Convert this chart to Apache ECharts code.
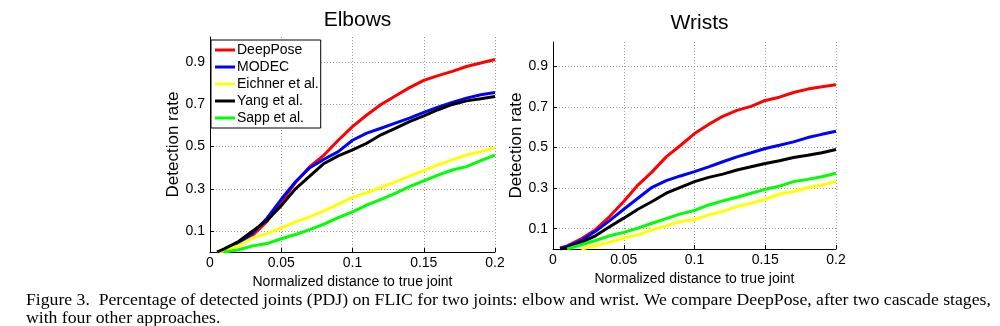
<!DOCTYPE html>
<html>
<head>
<meta charset="utf-8">
<script src="https://cdn.jsdelivr.net/npm/echarts@6/dist/echarts.min.js"></script>
<style>
  html, body { margin: 0; padding: 0; background: #fff; }
  #chart { width: 1000px; height: 326px; }
</style>
</head>
<body>
<div id="chart"></div>
<script>
// Normalized distance to true joint (sample positions along the x axis)
const distance = [0.005, 0.01, 0.02, 0.03, 0.04, 0.05, 0.06, 0.07, 0.08, 0.09, 0.10,
                  0.11, 0.12, 0.13, 0.14, 0.15, 0.16, 0.17, 0.18, 0.19, 0.20];

const methods = ['DeepPose', 'MODEC', 'Eichner et al.', 'Yang et al.', 'Sapp et al.'];
const methodColors = ['#ff0000', '#0000ff', '#ffff00', '#000000', '#00ff00'];

// Elbows: detection rate per method
const elbowDeepPose = [0, 0.01, 0.035, 0.08, 0.145, 0.235, 0.33, 0.405, 0.46, 0.53, 0.595,
                       0.65, 0.70, 0.74, 0.78, 0.814, 0.837, 0.857, 0.88, 0.897, 0.913];
const elbowMODEC    = [0, 0.01, 0.04, 0.09, 0.16, 0.25, 0.333, 0.40, 0.44, 0.476, 0.53,
                       0.564, 0.587, 0.611, 0.635, 0.662, 0.687, 0.71, 0.73, 0.746, 0.757];
const elbowEichner  = [0, 0.005, 0.03, 0.067, 0.087, 0.114, 0.143, 0.167, 0.195, 0.227, 0.259,
                       0.281, 0.306, 0.333, 0.36, 0.386, 0.413, 0.437, 0.46, 0.476, 0.495];
const elbowYang     = [0, 0.015, 0.05, 0.10, 0.15, 0.22, 0.30, 0.36, 0.42, 0.456, 0.484,
                       0.516, 0.556, 0.587, 0.619, 0.646, 0.675, 0.70, 0.717, 0.727, 0.738];
const elbowSapp     = [null, 0, 0.011, 0.029, 0.04, 0.063, 0.083, 0.106, 0.132, 0.163, 0.19,
                       0.222, 0.25, 0.278, 0.31, 0.337, 0.365, 0.389, 0.405, 0.433, 0.46];

// Wrists: detection rate per method
const wristDeepPose = [0.005, 0.015, 0.05, 0.095, 0.16, 0.234, 0.315, 0.38, 0.454, 0.51, 0.569,
                       0.614, 0.654, 0.683, 0.703, 0.732, 0.748, 0.771, 0.788, 0.80, 0.809];
const wristMODEC    = [0.003, 0.012, 0.042, 0.087, 0.14, 0.196, 0.25, 0.304, 0.337, 0.36, 0.381,
                       0.405, 0.43, 0.454, 0.474, 0.495, 0.511, 0.528, 0.549, 0.565, 0.58];
const wristEichner  = [null, null, 0, 0.016, 0.033, 0.054, 0.07, 0.095, 0.114, 0.136, 0.144,
                       0.168, 0.185, 0.209, 0.225, 0.245, 0.271, 0.283, 0.302, 0.315, 0.332];
const wristYang     = [0, 0.005, 0.033, 0.065, 0.11, 0.152, 0.196, 0.234, 0.275, 0.304, 0.332,
                       0.353, 0.369, 0.389, 0.405, 0.421, 0.435, 0.451, 0.462, 0.474, 0.49];
const wristSapp     = [null, 0, 0.021, 0.042, 0.065, 0.082, 0.103, 0.127, 0.15, 0.173, 0.19,
                       0.217, 0.237, 0.255, 0.275, 0.294, 0.31, 0.332, 0.343, 0.356, 0.373];

const panelTitles = ['Elbows', 'Wrists'];
const yTickValues = [0.1, 0.3, 0.5, 0.7, 0.9];
const xAxisName = 'Normalized distance to true joint';
const yAxisName = 'Detection rate';
const captionLines = [
  'Figure 3.  Percentage of detected joints (PDJ) on FLIC for two joints: elbow and wrist. We compare DeepPose, after two cascade stages,',
  'with four other approaches.'
];

const panels = [
  [elbowDeepPose, elbowMODEC, elbowEichner, elbowYang, elbowSapp],
  [wristDeepPose, wristMODEC, wristEichner, wristYang, wristSapp]
];

const sans = 'Liberation Sans, Arial, Helvetica, sans-serif';
const grids = [
  { left: 210, top: 37, width: 285, height: 215 },
  { left: 553, top: 42, width: 283, height: 207 }
];

function pairs(ys) {
  return distance.map((x, i) => [x, ys[i]]);
}

const xAxes = grids.map((g, i) => ({
  type: 'value', gridIndex: i, min: 0, max: 0.2, interval: 0.05,
  name: xAxisName, nameLocation: 'middle', nameGap: 14,
  nameTextStyle: { fontFamily: sans, fontSize: 14, color: '#000' },
  axisLine: { show: true, lineStyle: { color: '#000', width: 1 } },
  axisTick: { show: true, inside: true, length: 4, lineStyle: { color: '#000' } },
  axisLabel: { fontFamily: sans, fontSize: 14, color: '#000', margin: 4,
               formatter: v => String(+v.toFixed(2)) },
  splitLine: { show: true, showMinLine: false,
               lineStyle: { color: '#9a9a9a', type: [1, 2], width: 1 } }
}));

const yAxes = grids.map((g, i) => ({
  type: 'value', gridIndex: i, min: 0, max: 1.02,
  name: yAxisName, nameLocation: 'middle', nameGap: 25,
  nameTextStyle: { fontFamily: sans, fontSize: 17, color: '#000' },
  axisLine: { show: true, lineStyle: { color: '#000', width: 1 } },
  axisTick: { show: true, inside: true, length: 4, customValues: yTickValues,
              lineStyle: { color: '#000' } },
  axisLabel: { fontFamily: sans, fontSize: 14, color: '#000', margin: 5,
               customValues: yTickValues, formatter: v => String(+v.toFixed(1)) },
  splitLine: { show: true, lineStyle: { color: '#9a9a9a', type: [1, 2], width: 1 } }
}));

const series = [];
panels.forEach((rows, p) => {
  rows.forEach((ys, m) => {
    series.push({
      name: methods[m], type: 'line', xAxisIndex: p, yAxisIndex: p,
      data: pairs(ys), showSymbol: false, symbol: 'none', smooth: false,
      lineStyle: { color: methodColors[m], width: 3 },
      itemStyle: { color: methodColors[m] },
      emphasis: { disabled: true }, animation: false
    });
  });
});

const chart = echarts.init(document.getElementById('chart'), null, { renderer: 'canvas' });
chart.setOption({
  backgroundColor: '#fff',
  animation: false,
  title: panelTitles.map((t, i) => ({
    text: t, left: grids[i].left + grids[i].width / 2, top: i === 0 ? 5 : 8,
    textAlign: 'center',
    textStyle: { fontFamily: sans, fontSize: 21, fontWeight: 'normal', color: '#000' }
  })),
  legend: {
    data: methods, orient: 'vertical', left: 211, top: 40,
    icon: 'rect', itemWidth: 20, itemHeight: 3, itemGap: 3,
    padding: [3, 2, 3, 4],
    backgroundColor: '#fff', borderColor: '#000', borderWidth: 1, borderRadius: 0,
    textStyle: { fontFamily: sans, fontSize: 14, color: '#000', padding: [0, 0, 0, -3] },
    selectedMode: false
  },
  grid: grids,
  xAxis: xAxes,
  yAxis: yAxes,
  series: series,
  // two-line figure caption, stretched a little to the column width
  graphic: captionLines.map((line, i) => ({
    type: 'text', left: 26, top: 293 + i * 18, scaleX: 1.105,
    style: { text: line, font: '16px "Liberation Serif", "Times New Roman", serif', fill: '#000' }
  }))
});
</script>
</body>
</html>
